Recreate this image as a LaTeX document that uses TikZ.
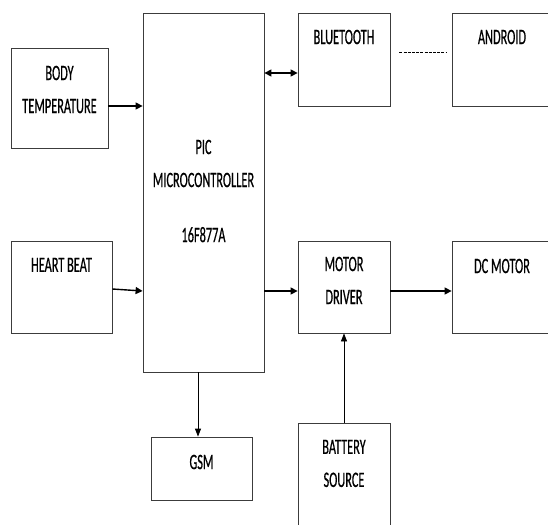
\documentclass[tikz,border=0pt]{standalone}
\usepackage{fontspec}
\setmainfont{Carlito}[FakeStretch=0.56, FakeBold=0.5]
\usepackage{tikz}
\usetikzlibrary{positioning, arrows.meta}
\definecolor{boxline}{RGB}{60,60,60}
\tikzset{
  blkbox/.style = {rectangle, draw=boxline, line width=0.8pt, inner sep=0pt},
  blktext/.style = {align=center, inner sep=0pt,
                    font={\fontsize{22}{33}\selectfont}},
  blkarrow/.style = {-{Triangle[length=7pt,width=7pt]}, line width=1.4pt},
  thinarrow/.style = {-{Triangle[length=8pt,width=6pt]}, line width=0.8pt}
}

\begin{document}
\begin{tikzpicture}[x=1pt, y=-1pt, node distance=17pt]
\clip (0,0) rectangle (548,524);
\fill[white] (0,0) rectangle (548,524);

% blocks
\node[blkbox, minimum width=97pt,  minimum height=100pt] (bt)  at (59.5,98)  {};
\node[blkbox, minimum width=121pt, minimum height=359pt] (pic) at (203.5,192.5) {};
\node[blkbox, minimum width=92pt,  minimum height=93pt]  (bl)  at (344,59.5)  {};
\node[blkbox, minimum width=100pt, minimum height=93pt]  (an)  at (502,59.5)  {};
\node[blkbox, minimum width=101pt, minimum height=92pt]  (hb)  at (61.5,287)  {};
\node[blkbox, minimum width=92pt,  minimum height=92pt]  (md)  at (344,287)   {};
\node[blkbox, minimum width=100pt, minimum height=92pt]  (dc)  at (502,287)   {};
\node[blkbox, minimum width=101pt, minimum height=63pt]  (gsm) at (201.5,468.5) {};
\node[blkbox, minimum width=92pt,  minimum height=117pt] (bat) at (344,481.5) {};

% texts
\node[blktext, below=18pt of bt.north]   (bt-t)  {BODY\\TEMPERATURE};
\node[blktext, below=127pt of pic.north] (pic-t) {PIC\\MICROCONTROLLER\\[22pt]16F877A};
\node[blktext, below=of bl.north]        (bl-t)  {BLUETOOTH};
\node[blktext, below=of an.north]        (an-t)  {ANDROID};
\node[blktext, below=of hb.north]        (hb-t)  {HEART BEAT};
\node[blktext, below=16pt of md.north]   (md-t)  {MOTOR\\DRIVER};
\node[blktext, below=18pt of dc.north]   (dc-t)  {DC MOTOR};
\node[blktext, below=18pt of gsm.north]  (gsm-t) {GSM};
\node[blktext, below=of bat.north]       (bat-t) {BATTERY\\SOURCE};

% links
\draw[blkarrow] ([yshift=-8pt]bt.east) -- ([yshift=-8pt]bt.east -| pic.west);
\draw[blkarrow] ([yshift=-2pt]hb.east) -- ([yshift=-4pt]hb.east -| pic.west);
\draw[blkarrow, {Triangle[length=7pt,width=7pt]}-{Triangle[length=7pt,width=7pt]}]
  ([yshift=-13.5pt]bl.west -| pic.east) -- ([yshift=-13.5pt]bl.west);
\draw[dash pattern=on 3pt off 1.2pt, line width=0.8pt]
  ([xshift=9pt, yshift=7.5pt]bl.east) -- ([xshift=-5pt, yshift=7.5pt]an.west);
\draw[blkarrow] ([yshift=-4pt]md.west -| pic.east) -- ([yshift=-4pt]md.west);
\draw[blkarrow] ([yshift=-4pt]md.east) -- ([yshift=-4pt]dc.west);
\draw[thinarrow] ([xshift=-3.5pt]gsm.north |- pic.south) -- ([xshift=-3.5pt]gsm.north);
\draw[thinarrow] (bat.north) -- (md.south);
\end{tikzpicture}
\end{document}
